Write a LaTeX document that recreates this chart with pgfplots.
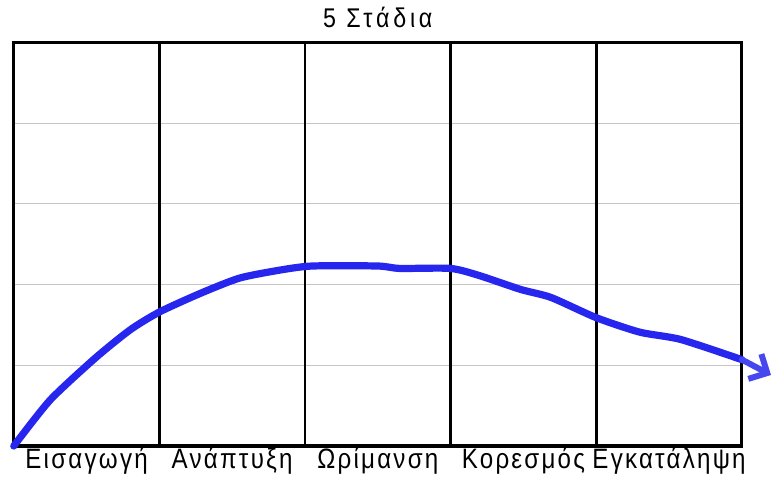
\documentclass[border=0pt]{standalone}
\usepackage{fontspec}
\setmainfont[LetterSpace=8, FakeStretch=0.86]{Liberation Sans}
\usepackage{pgfplots}
\pgfplotsset{compat=1.18}
\usetikzlibrary{arrows.meta}
\definecolor{pen}{RGB}{38,38,238}
\begin{document}
\begin{tikzpicture}
\begin{axis}[
	width=363.5pt, height=201.5pt,
	scale only axis,
	xmin=0, xmax=5, ymin=0, ymax=5,
	clip=false,
	axis line style={black, line width=1.6pt},
	title={\addfontfeatures{LetterSpace=14}5 Στάδια},
	title style={font=\fontsize{13.5}{14}\selectfont, yshift=-2pt},
	xtick={0.5,1.5,2.5,3.5,4.5},
	xticklabels={Εισαγωγή, Ανάπτυξη, Ωρίμανση, Κορεσμός, Εγκατάληψη},
	x tick label style={font=\fontsize{14}{15}\selectfont, yshift=3pt},
	major tick length=0pt,
	extra x ticks={1,2,3,4},
	extra x tick labels={},
	extra x tick style={grid=major, major grid style={black, line width=1.4pt}},
	ytick={1,2,3,4},
	yticklabels={},
	ymajorgrids=true,
	grid style={gray!45, line width=0.6pt},
]
\addplot[pen, line width=3.6pt, smooth, tension=0.4, line cap=round, line join=round]
coordinates{
	(0.00, 0.00)
	(0.25, 0.57)
	(0.56, 1.09)
	(0.80, 1.44)
	(1.00, 1.66)
	(1.28, 1.89)
	(1.55, 2.08)
	(1.83, 2.18)
	(2.05, 2.23)
	(2.50, 2.23)
	(2.65, 2.20)
	(3.00, 2.20)
	(3.20, 2.11)
	(3.48, 1.94)
	(3.69, 1.84)
	(4.00, 1.59)
	(4.30, 1.41)
	(4.58, 1.32)
	(5.00, 1.07)
};
\addplot[pen!85, line width=3pt, line cap=round, -{Straight Barb[length=7pt, width=14pt, line width=3pt]}]
coordinates{
	(5.00, 1.07)
	(5.20, 0.88)
};
\end{axis}
\end{tikzpicture}
\end{document}
